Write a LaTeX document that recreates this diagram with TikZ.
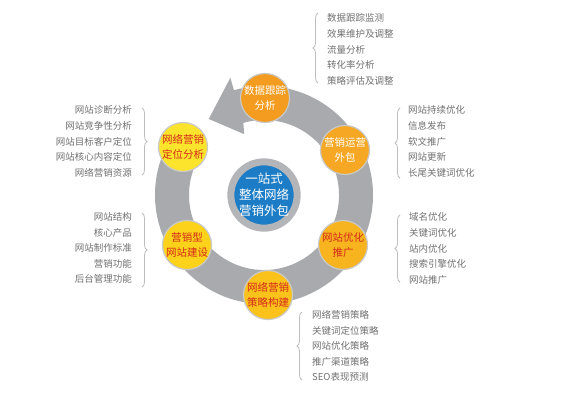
\documentclass[tikz,border=0pt]{standalone}
\usepackage{fontspec}
\setmainfont{Noto Sans CJK SC}
\usepackage{tikz}
\usetikzlibrary{positioning,calc,decorations.pathreplacing}
\definecolor{ringgray}{HTML}{A8AAAD}
\definecolor{hubgray}{HTML}{B3B5B8}
\definecolor{hubblue}{HTML}{1C7DC6}
\definecolor{satedge}{HTML}{C9C9C9}
\definecolor{satred}{HTML}{D42A1C}
\definecolor{listgray}{HTML}{707070}
\definecolor{bracegray}{HTML}{BDBDBD}

\begin{document}
\begin{tikzpicture}[
            x=1pt, y=1pt,
            hub/.style={
                circle,
                fill=hubblue,
                draw=hubgray,
                line width=7pt,
                minimum size=63pt,
                inner sep=0pt,
                align=center,
                text=white,
                font=\fontsize{12.5}{16}\selectfont
            },
            sat/.style={
                circle,
                draw=satedge,
                line width=1.2pt,
                minimum size=49pt,
                inner sep=0pt,
                align=center,
                text=satred,
                font=\fontsize{10.5}{15}\selectfont
            },
            whitetext/.style={
                text=white
            },
            list/.style={
                inner sep=0pt,
                text=listgray,
                font=\fontsize{9.5}{15.6}\selectfont
            },
            bracket/.style={
                decorate,
                decoration={brace, amplitude=5pt},
                draw=bracegray,
                line width=0.8pt
            },
        ]

            \useasboundingbox (0,0) rectangle (569,400);

            \coordinate (c) at (264,205);

            \fill[ringgray] ($(c)+(150:109)$) arc[start angle=150, end angle=466, radius=109]
                -- ($(c)+(466:122)$) -- ($(c)+(486:94)$) -- ($(c)+(468:64)$)
                -- ($(c)+(466:75)$) arc[start angle=466, end angle=150, radius=75] -- cycle;

            \node[hub] (hub) at (c) {一站式\\整体网络\\营销外包};

            \node[sat, fill={rgb,255:red,243;green,156;blue,31}, whitetext] (track) at (265,302) {数据跟踪\\分析};
            \node[sat, fill={rgb,255:red,246;green,167;blue,35}, whitetext] (outsrc) at (345,250) {营销运营\\外包};
            \node[sat, fill={rgb,255:red,248;green,180;blue,30}] (seo) at (343,155) {网站优化\\推广};
            \node[sat, fill={rgb,255:red,251;green,194;blue,27}] (plan) at (268,105) {网络营销\\策略构建};
            \node[sat, fill={rgb,255:red,253;green,210;blue,26}] (build) at (187,155) {营销型\\网站建设};
            \node[sat, fill={rgb,255:red,253;green,228;blue,44}] (locate) at (183,253) {网络营销\\定位分析};

            \node[list, anchor=west, align=left] (tracklist) at (327,350.5) {数据跟踪监测\\效果维护及调整\\流量分析\\转化率分析\\策略评估及调整};
            \draw[bracket] (318,317) -- (318,387);

            \node[list, anchor=west, align=left] (outsrclist) at (408,258.5) {网站持续优化\\信息发布\\软文推广\\网站更新\\长尾关键词优化};
            \draw[bracket] (400,222) -- (400,292);

            \node[list, anchor=west, align=left] (seolist) at (409,151.5) {域名优化\\关键词优化\\站内优化\\搜索引擎优化\\网站推广};
            \draw[bracket] (400,118) -- (400,185);

            \node[list, anchor=west, align=left] (planlist) at (312,54) {网络营销策略\\关键词定位策略\\网站优化策略\\推广渠道策略\\SEO表现预测};
            \draw[bracket] (302,20) -- (302,88);

            \node[list, anchor=east, align=right] (locatelist) at (132,258.5) {网站诊断分析\\网站竞争性分析\\网站目标客户定位\\网站核心内容定位\\网络营销资源};
            \draw[bracket] (142,292) -- (142,225);

            \node[list, anchor=east, align=right] (buildlist) at (132,152) {网站结构\\核心产品\\网站制作标准\\营销功能\\后台管理功能};
            \draw[bracket] (142,187) -- (142,113);

        \end{tikzpicture}
\end{document}
